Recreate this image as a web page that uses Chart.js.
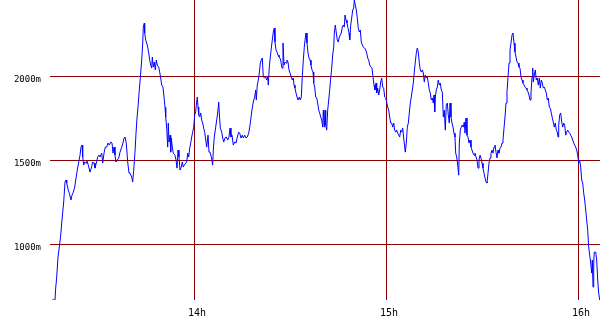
<!DOCTYPE html>
<html>
<head>
<meta charset="utf-8">
<title>Altitude</title>
<script src="https://cdn.jsdelivr.net/npm/chart.js@4/dist/chart.umd.min.js"></script>
<style>
  html, body { margin: 0; padding: 0; background: #fff; }
  #wrap { width: 600px; height: 330px; }
</style>
</head>
<body>
<div id="wrap"><canvas id="chart" width="600" height="330"></canvas></div>
<script>
// minutes after 13h00
const minutes = [
  15.63, 16.56, 16.78, 17.09, 17.5, 17.91, 18.34, 18.66, 18.97, 19.28, 19.69, 20.0, 20.22, 20.72, 21.03, 21.56,
  21.88, 22.28, 22.72, 23.13, 23.53, 23.97, 24.38, 24.69, 25.0, 25.22, 25.53, 25.84, 26.25, 26.56, 26.97, 27.5,
  27.91, 28.34, 28.75, 29.06, 29.47, 29.91, 30.31, 30.63, 31.16, 31.47, 31.88, 32.28, 32.72, 33.13, 33.53, 33.97,
  34.38, 34.69, 35.0, 35.31, 35.63, 36.03, 36.47, 36.88, 37.41, 37.81, 38.13, 38.44, 38.84, 39.28, 39.69, 40.0,
  40.53, 40.84, 41.16, 41.56, 41.88, 42.19, 42.5, 42.91, 43.22, 43.66, 43.97, 44.16, 44.47, 44.59, 44.91, 45.22,
  45.53, 45.84, 46.16, 46.47, 46.78, 46.97, 47.28, 47.59, 47.91, 48.22, 48.53, 48.97, 49.28, 49.59, 49.91, 50.31,
  50.63, 50.94, 51.16, 51.47, 51.78, 51.97, 52.19, 52.5, 52.72, 52.91, 53.22, 53.53, 54.06, 54.38, 54.69, 55.0,
  55.31, 55.63, 56.03, 56.34, 56.66, 56.97, 57.41, 57.72, 58.03, 58.34, 58.66, 58.97, 59.28, 59.59, 59.91, 60.22,
  60.53, 60.72, 61.03, 61.25, 61.47, 61.78, 62.09, 62.41, 62.72, 63.03, 63.34, 63.66, 63.97, 64.38, 64.69, 65.0,
  65.41, 65.84, 66.03, 66.34, 66.78, 67.09, 67.41, 67.72, 67.91, 68.22, 68.66, 68.97, 69.28, 69.69, 70.09, 70.53,
  70.94, 71.25, 71.56, 71.88, 72.28, 72.72, 73.13, 73.53, 73.97, 74.28, 74.69, 75.09, 75.41, 75.84, 76.25, 76.66,
  77.09, 77.41, 77.72, 78.03, 78.34, 78.66, 78.97, 79.28, 79.47, 79.78, 80.09, 80.41, 80.72, 81.03, 81.34, 81.66,
  82.09, 82.41, 82.72, 83.03, 83.22, 83.53, 83.84, 84.16, 84.47, 84.78, 85.09, 85.31, 85.63, 85.94, 86.25, 86.56,
  86.88, 87.19, 87.5, 87.81, 88.13, 88.44, 88.75, 89.06, 89.38, 89.69, 90.0, 90.41, 90.72, 91.03, 91.25, 91.56,
  91.88, 92.19, 92.5, 92.91, 93.22, 93.53, 93.84, 94.16, 94.47, 94.78, 95.0, 95.31, 95.63, 95.94, 96.25, 96.56,
  96.88, 97.19, 97.41, 97.72, 98.03, 98.34, 98.66, 98.97, 99.28, 99.59, 99.91, 100.22, 100.41, 100.72, 100.94, 101.16,
  101.47, 101.78, 102.09, 102.41, 102.72, 103.03, 103.34, 103.66, 103.84, 104.16, 104.47, 104.78, 105.09, 105.41, 105.72, 106.03,
  106.34, 106.66, 106.97, 107.19, 107.5, 107.81, 108.13, 108.44, 108.66, 108.97, 109.28, 109.59, 109.91, 110.09, 110.41, 110.72,
  111.03, 111.34, 111.66, 111.97, 112.28, 112.59, 112.91, 113.34, 113.66, 113.97, 114.28, 114.59, 114.91, 115.31, 115.63, 115.94,
  116.25, 116.56, 116.88, 117.09, 117.41, 117.72, 118.03, 118.34, 118.66, 118.97, 119.28, 119.59, 119.91, 120.22, 120.53, 120.84,
  121.16, 121.47, 121.78, 122.09, 122.41, 122.72, 123.03, 123.34, 123.66, 123.97, 124.28, 124.59, 124.91, 125.22, 125.53, 125.84,
  126.03, 126.34, 126.66, 126.97, 127.28, 127.59, 127.91, 128.22, 128.53, 128.84, 129.16, 129.47, 129.78, 130.09, 130.41, 130.72,
  131.03, 131.34, 131.66, 131.97, 132.28, 132.59, 132.91, 133.22, 133.53, 133.84, 134.16, 134.47, 134.78, 135.0, 135.22, 135.41,
  135.72, 136.03, 136.34, 136.66, 136.97, 137.28, 137.59, 137.91, 138.22, 138.53, 138.84, 139.16, 139.47, 139.78, 140.0, 140.31,
  140.63, 140.94, 141.25, 141.56, 141.78, 142.09, 142.41, 142.72, 142.91, 143.22, 143.53, 143.84, 144.16, 144.47, 144.69, 145.0,
  145.31, 145.63, 145.94, 146.25, 146.56, 146.88, 147.19, 147.5, 147.81, 148.13, 148.44, 148.75, 149.06, 149.38, 149.69, 150.0,
  150.31, 150.63, 150.94, 151.25, 151.56, 151.88, 152.19, 152.5, 152.81, 153.13, 153.44, 153.75, 154.06, 154.38, 154.69, 155.0,
  155.31, 155.63, 155.94, 156.25, 156.56, 156.88, 157.19, 157.5, 157.81, 158.13, 158.44, 158.75, 159.06, 159.38, 159.69, 160.0,
  160.31, 160.63, 160.94, 161.25, 161.56, 161.88, 162.19, 162.5, 162.81, 163.13, 163.44, 163.75, 164.06, 164.38, 164.69, 165.0,
  165.31, 165.63, 165.84, 166.03, 166.34, 166.66, 166.97, 167.28, 167.59, 167.91, 168.22, 168.53, 168.84, 169.16, 169.47, 169.78,
  170.09, 170.41, 170.72, 171.03, 171.34, 171.66, 171.97, 172.28, 172.59, 172.91, 173.22, 173.53, 173.75, 173.97, 174.28, 174.59,
  174.91, 175.22, 175.53, 175.84, 176.16, 176.47, 176.78, 177.09, 177.41, 177.72, 178.03, 178.34, 178.66, 178.97, 179.28, 179.59,
  179.91, 180.22, 180.53, 180.84, 181.16, 181.47, 181.78, 182.09, 182.41, 182.72, 183.03, 183.34, 183.66, 183.97, 184.28, 184.47,
  184.69, 184.91, 185.09, 185.53, 185.84, 186.16, 186.47, 186.78
];

// altitude in metres
const altitude = [
  667, 667, 738, 803, 922, 982, 1053, 1125, 1190, 1250, 1369, 1381, 1363, 1321, 1303, 1262,
  1291, 1309, 1339, 1393, 1440, 1488, 1529, 1577, 1589, 1518, 1470, 1488, 1482, 1494, 1470, 1428,
  1452, 1488, 1482, 1452, 1482, 1518, 1529, 1518, 1541, 1482, 1541, 1577, 1577, 1601, 1589, 1607,
  1601, 1541, 1577, 1529, 1488, 1500, 1512, 1547, 1577, 1601, 1631, 1637, 1601, 1488, 1422, 1422,
  1399, 1369, 1440, 1547, 1660, 1750, 1815, 1917, 1988, 2095, 2196, 2291, 2315, 2256, 2214, 2196,
  2172, 2137, 2095, 2065, 2047, 2113, 2053, 2083, 2036, 2095, 2065, 2053, 2024, 1988, 1946, 1934,
  1875, 1815, 1756, 1690, 1577, 1720, 1607, 1648, 1547, 1631, 1577, 1541, 1529, 1500, 1452, 1559,
  1518, 1440, 1458, 1488, 1458, 1470, 1482, 1488, 1541, 1518, 1571, 1601, 1637, 1666, 1696, 1768,
  1786, 1827, 1875, 1815, 1768, 1756, 1780, 1738, 1720, 1690, 1666, 1619, 1577, 1648, 1547, 1547,
  1518, 1470, 1559, 1637, 1696, 1738, 1780, 1845, 1780, 1690, 1666, 1631, 1607, 1631, 1637, 1619,
  1637, 1690, 1637, 1648, 1589, 1607, 1601, 1637, 1666, 1660, 1631, 1648, 1631, 1648, 1631, 1637,
  1660, 1696, 1738, 1786, 1827, 1857, 1875, 1917, 1857, 1946, 1976, 2018, 2077, 2095, 2107, 1994,
  1988, 1994, 1976, 1994, 1946, 2053, 2113, 2166, 2214, 2262, 2285, 2202, 2155, 2143, 2125, 2113,
  2107, 2083, 2047, 2196, 2065, 2083, 2077, 2095, 2083, 2036, 2018, 1994, 1976, 1988, 1946, 1928,
  1899, 1875, 1857, 1875, 1857, 1875, 1994, 2095, 2172, 2226, 2256, 2196, 2137, 2107, 2095, 2065,
  2036, 2024, 1958, 1934, 1875, 1869, 1839, 1797, 1780, 1756, 1738, 1696, 1797, 1696, 1797, 1708,
  1678, 1797, 1857, 1917, 1988, 2047, 2125, 2172, 2256, 2303, 2256, 2214, 2202, 2232, 2244, 2256,
  2291, 2303, 2291, 2363, 2333, 2315, 2285, 2256, 2214, 2303, 2345, 2393, 2405, 2452, 2422, 2393,
  2345, 2285, 2262, 2274, 2202, 2184, 2172, 2166, 2155, 2137, 2107, 2095, 2065, 2053, 2047, 1994,
  1946, 1917, 1958, 1899, 1928, 1887, 1917, 1964, 1988, 1934, 1928, 1875, 1869, 1845, 1815, 1797,
  1756, 1720, 1720, 1696, 1720, 1678, 1666, 1678, 1660, 1648, 1637, 1678, 1666, 1690, 1631, 1577,
  1547, 1601, 1696, 1720, 1780, 1839, 1875, 1917, 1958, 2024, 2083, 2137, 2166, 2143, 2077, 2036,
  2024, 2036, 2018, 1964, 2006, 1988, 1994, 1958, 1917, 1899, 1857, 1869, 1839, 1887, 1786, 1875,
  1917, 1934, 1976, 1946, 1958, 1917, 1905, 1756, 1797, 1678, 1827, 1839, 1768, 1720, 1839, 1756,
  1720, 1696, 1660, 1637, 1541, 1518, 1470, 1410, 1601, 1678, 1696, 1708, 1696, 1726, 1660, 1750,
  1648, 1637, 1601, 1619, 1577, 1559, 1541, 1529, 1541, 1518, 1500, 1452, 1500, 1529, 1512, 1482,
  1452, 1422, 1393, 1369, 1363, 1422, 1482, 1512, 1541, 1559, 1541, 1577, 1589, 1547, 1512, 1559,
  1541, 1571, 1577, 1601, 1619, 1690, 1756, 1839, 1905, 1994, 2077, 2155, 2196, 2244, 2256, 2196,
  2143, 2113, 2083, 2077, 2053, 2047, 1994, 1976, 1958, 1946, 1934, 1928, 1917, 1905, 1887, 1857,
  1899, 1994, 2047, 1964, 2006, 2036, 1976, 1988, 1946, 1988, 1928, 1976, 1958, 1928, 1934, 1917,
  1899, 1857, 1869, 1815, 1809, 1780, 1750, 1726, 1696, 1720, 1678, 1666, 1637, 1708, 1768, 1780,
  1726, 1696, 1720, 1708, 1648, 1666, 1678, 1666, 1660, 1648, 1637, 1619, 1601, 1589, 1577, 1559,
  1529, 1482, 1500, 1458, 1381, 1363, 1303, 1262, 1202, 1143, 1083, 982, 934, 887, 827, 905,
  744, 887, 952, 952, 905, 786, 708, 667
];

// ticks of the axes
const yTicks = [1000, 1500, 2000];
const xTicks = [60, 120, 180];
const xTickLabels = ['14h', '15h', '16h'];

const gridColor = '#8b0000';

const points = minutes.map((m, i) => ({ x: m, y: altitude[i] }));

const ctx = document.getElementById('chart').getContext('2d');
new Chart(ctx, {
  type: 'line',
  data: {
    datasets: [{
      data: points,
      borderColor: '#0000ff',
      borderWidth: 1,
      pointRadius: 0,
      tension: 0,
      fill: false
    }]
  },
  options: {
    responsive: false,
    animation: false,
    events: [],
    layout: { padding: 0 },
    plugins: { legend: { display: false }, tooltip: { enabled: false } },
    scales: {
      x: {
        type: 'linear',
        min: 15,
        max: 186.875,
        afterBuildTicks: s => { s.ticks = xTicks.map(v => ({ value: v })); },
        afterFit: s => { s.height = 30; s.paddingLeft = 0; s.paddingRight = 0; },
        grid: { color: gridColor, lineWidth: 1, drawTicks: false },
        border: { display: false },
        ticks: {
          color: '#000',
          font: { family: 'DejaVu Sans Mono', size: 10 },
          padding: 7,
          labelOffset: 3,
          maxRotation: 0,
          callback: v => xTickLabels[xTicks.indexOf(v)]
        }
      },
      y: {
        type: 'linear',
        min: 667,
        max: 2452.4,
        afterBuildTicks: s => { s.ticks = yTicks.map(v => ({ value: v })); },
        afterFit: s => { s.width = 50; s.paddingTop = 0; s.paddingBottom = 0; },
        grid: { color: gridColor, lineWidth: 1, drawTicks: false },
        border: { display: false },
        ticks: {
          color: '#000',
          font: { family: 'DejaVu Sans Mono', size: 9 },
          padding: 9,
          labelOffset: 4,
          callback: v => v + 'm'
        }
      }
    }
  }
});
</script>
</body>
</html>
